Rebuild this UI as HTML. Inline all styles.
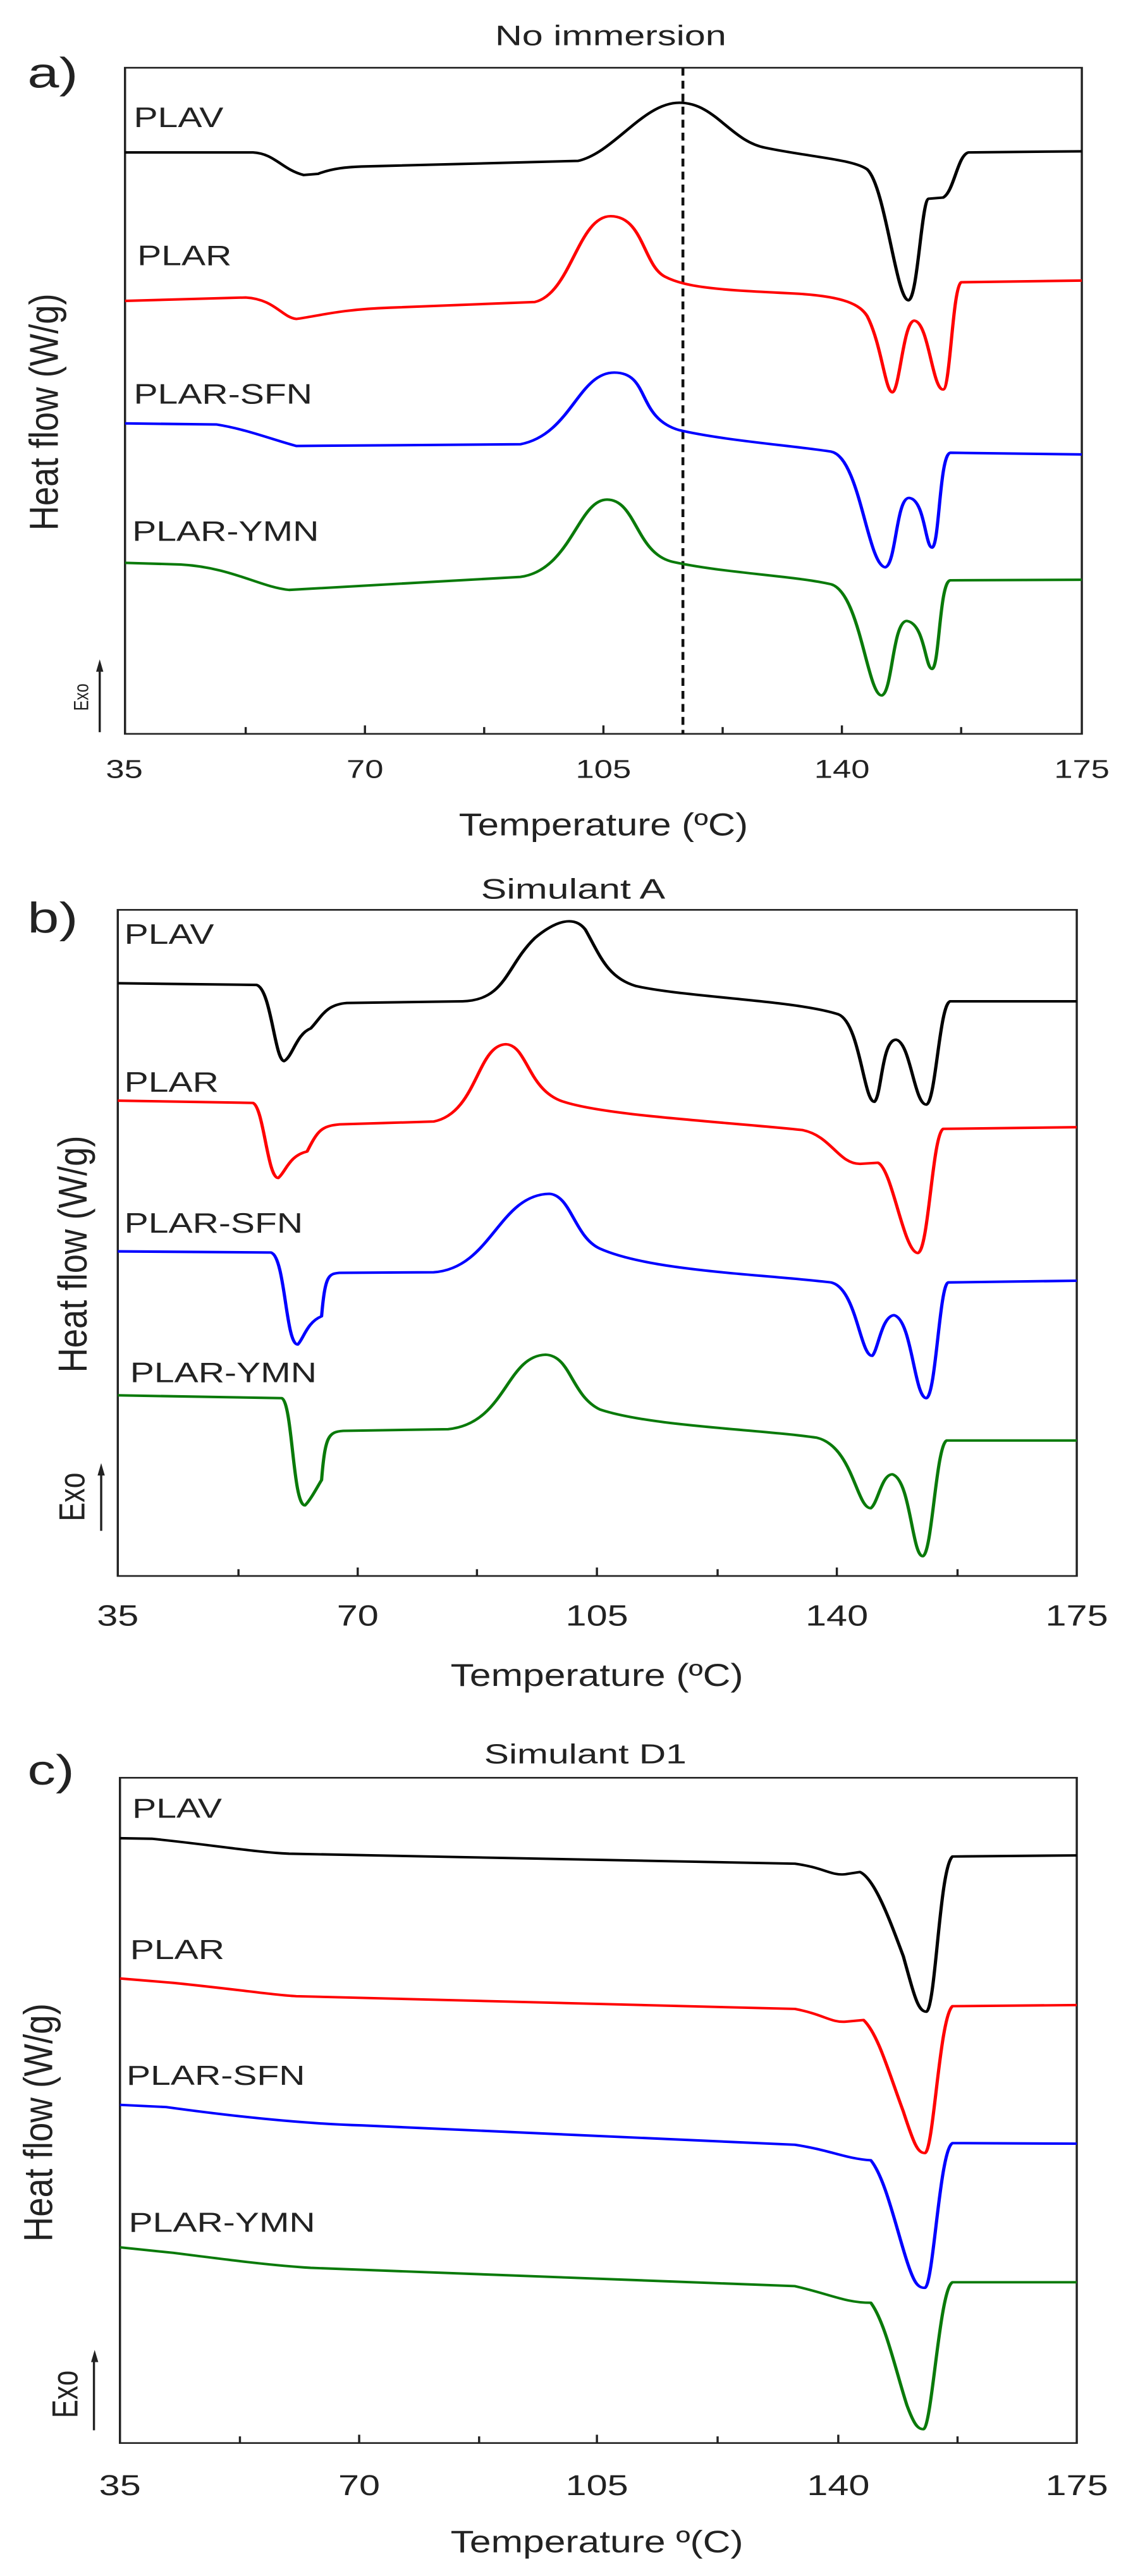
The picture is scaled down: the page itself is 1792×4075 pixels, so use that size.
<!DOCTYPE html>
<html><head><meta charset="utf-8"><style>
html,body{margin:0;padding:0;background:#fff;}
svg{display:block;}
text{font-family:"Liberation Sans",Arial,sans-serif;fill:#222;}
</style></head><body>
<svg width="1792" height="4075" viewBox="0 0 1792 4075" xmlns="http://www.w3.org/2000/svg">
<rect width="1792" height="4075" fill="#fff"/>

<!-- Panel a -->
<g transform="translate(0,0) scale(1.143,0.893)">
  <text x="845" y="80" font-size="50" text-anchor="middle" textLength="320" lengthAdjust="spacingAndGlyphs">No immersion</text>
  <text x="38" y="155" font-size="76" textLength="70" lengthAdjust="spacingAndGlyphs">a)</text>
  <rect x="173" y="120" width="1324" height="1180" fill="none" stroke="#222" stroke-width="3"/>
  <g stroke="#222" stroke-width="3">
    <line x1="340" y1="1300" x2="340" y2="1288"/><line x1="505" y1="1300" x2="505" y2="1285"/>
    <line x1="670" y1="1300" x2="670" y2="1288"/><line x1="835" y1="1300" x2="835" y2="1285"/>
    <line x1="1000" y1="1300" x2="1000" y2="1288"/><line x1="1165" y1="1300" x2="1165" y2="1285"/>
    <line x1="1330" y1="1300" x2="1330" y2="1288"/>
  </g>
  <g font-size="46" text-anchor="middle">
    <text x="172" y="1378">35</text><text x="505" y="1378">70</text><text x="835" y="1378">105</text>
    <text x="1165" y="1378">140</text><text x="1497" y="1378">175</text>
  </g>
  <text x="835" y="1480" font-size="56" text-anchor="middle" textLength="400" lengthAdjust="spacingAndGlyphs">Temperature (ºC)</text>
  <text transform="translate(80,730) rotate(-90)" font-size="56" text-anchor="middle" textLength="420" lengthAdjust="spacingAndGlyphs">Heat flow (W/g)</text>
  <text transform="translate(122,1235) rotate(-90)" font-size="28" text-anchor="middle">Exo</text>
  <line x1="138" y1="1297" x2="138" y2="1180" stroke="#222" stroke-width="3"/>
  <polygon points="138,1168 133,1190 143,1190" fill="#222"/>
  <line x1="945" y1="120" x2="945" y2="1300" stroke="#111" stroke-width="4" stroke-dasharray="14,9"/>
  <g font-size="50">
    <text x="185" y="225">PLAV</text><text x="190" y="470">PLAR</text>
    <text x="185" y="715">PLAR-SFN</text><text x="183" y="958">PLAR-YMN</text>
  </g>
  <g fill="none" stroke-width="4.5" stroke-linejoin="round">
    <path stroke="#000" d="M173,270 L350,270 C380,272 390,300 420,310 L440,308 C460,298 480,296 500,295 L800,285 C850,270 890,182 940,182 C990,182 1010,250 1060,262 C1120,278 1180,282 1200,300 C1225,330 1240,530 1257,532 C1270,530 1275,355 1285,352 L1305,350 C1320,340 1325,275 1340,270 L1497,268"/>
    <path stroke="#f00" d="M173,533 L340,527 C380,530 390,562 410,565 C440,560 470,548 540,545 L740,535 C790,520 800,383 845,383 C890,383 890,470 920,490 C950,510 1000,514 1100,520 C1170,525 1190,540 1200,560 C1220,610 1225,695 1235,695 C1245,690 1250,570 1265,568 C1285,570 1290,690 1305,690 C1315,690 1318,510 1330,500 L1497,497"/>
    <path stroke="#0000ff" d="M173,750 L300,752 C340,760 380,780 410,790 L720,787 C790,770 800,660 850,660 C900,660 880,740 940,762 C1000,780 1100,790 1150,800 C1190,810 1200,1000 1225,1005 C1240,1000 1240,882 1258,882 C1280,885 1280,970 1290,970 C1300,965 1300,805 1315,802 L1497,805"/>
    <path stroke="#0a7a0a" d="M173,997 L250,1000 C320,1005 360,1040 400,1045 L720,1022 C790,1010 800,885 840,885 C880,885 880,980 930,995 C1000,1015 1100,1020 1150,1035 C1190,1050 1200,1230 1220,1232 C1235,1228 1235,1100 1255,1100 C1280,1105 1280,1185 1290,1185 C1300,1180 1300,1030 1315,1028 L1497,1027"/>
  </g>
</g>

<!-- Panel b -->
<g transform="translate(0,1350) scale(1.143,0.893)">
  <text x="793" y="80" font-size="50" text-anchor="middle" textLength="255" lengthAdjust="spacingAndGlyphs">Simulant A</text>
  <text x="38" y="140" font-size="76" textLength="70" lengthAdjust="spacingAndGlyphs">b)</text>
  <rect x="163" y="100" width="1327" height="1180" fill="none" stroke="#222" stroke-width="3"/>
  <g stroke="#222" stroke-width="3">
    <line x1="330" y1="1280" x2="330" y2="1268"/><line x1="495" y1="1280" x2="495" y2="1265"/>
    <line x1="660" y1="1280" x2="660" y2="1268"/><line x1="826" y1="1280" x2="826" y2="1265"/>
    <line x1="993" y1="1280" x2="993" y2="1268"/><line x1="1158" y1="1280" x2="1158" y2="1265"/>
    <line x1="1325" y1="1280" x2="1325" y2="1268"/>
  </g>
  <g font-size="52" text-anchor="middle">
    <text x="163" y="1368">35</text><text x="495" y="1368">70</text><text x="826" y="1368">105</text>
    <text x="1158" y="1368">140</text><text x="1490" y="1368">175</text>
  </g>
  <text x="826" y="1475" font-size="56" text-anchor="middle" textLength="405" lengthAdjust="spacingAndGlyphs">Temperature (ºC)</text>
  <text transform="translate(120,710) rotate(-90)" font-size="56" text-anchor="middle" textLength="420" lengthAdjust="spacingAndGlyphs">Heat flow (W/g)</text>
  <text transform="translate(117,1140) rotate(-90)" font-size="50" text-anchor="middle">Exo</text>
  <line x1="140" y1="1200" x2="140" y2="1095" stroke="#222" stroke-width="3"/>
  <polygon points="140,1080 135,1102 145,1102" fill="#222"/>
  <g font-size="50">
    <text x="172" y="160">PLAV</text><text x="172" y="422">PLAR</text>
    <text x="172" y="672">PLAR-SFN</text><text x="180" y="937">PLAR-YMN</text>
  </g>
  <g fill="none" stroke-width="4.5" stroke-linejoin="round">
    <path stroke="#000" d="M163,230 L355,233 C375,240 380,365 393,368 C405,360 410,320 430,310 C445,290 450,268 480,265 L640,262 C700,260 700,200 740,150 C770,118 795,110 810,135 C830,180 840,220 880,235 C950,255 1100,260 1160,285 C1190,300 1195,440 1210,440 C1220,430 1220,330 1240,330 C1260,335 1265,445 1282,445 C1295,440 1300,265 1315,262 L1490,262"/>
    <path stroke="#f00" d="M163,438 L350,442 C365,450 370,575 385,575 C395,565 400,535 425,528 C440,490 445,483 470,480 L600,475 C660,460 660,340 700,338 C730,340 730,420 780,440 C840,465 1000,475 1110,490 C1150,500 1160,550 1190,550 L1215,548 C1235,560 1250,705 1270,708 C1285,705 1290,500 1305,488 L1490,485"/>
    <path stroke="#0000ff" d="M163,705 L375,707 C395,715 395,870 412,870 C420,860 425,830 445,820 C450,745 455,745 470,743 L600,742 C680,735 690,605 760,603 C790,605 795,680 830,700 C900,740 1050,745 1150,760 C1185,770 1190,890 1207,890 C1215,880 1220,820 1237,818 C1262,825 1265,965 1282,965 C1295,960 1300,765 1312,760 L1490,757"/>
    <path stroke="#0a7a0a" d="M163,960 L390,965 C405,975 405,1155 422,1155 C430,1145 440,1120 445,1110 C450,1030 455,1025 475,1023 L620,1020 C700,1010 700,890 755,888 C790,890 790,960 830,985 C900,1015 1050,1020 1130,1035 C1180,1050 1185,1160 1205,1160 C1215,1150 1220,1100 1235,1100 C1260,1110 1262,1245 1277,1245 C1290,1240 1295,1050 1310,1040 L1490,1040"/>
  </g>
</g>

<!-- Panel c -->
<g transform="translate(0,2700) scale(1.143,0.877)">
  <text x="810" y="102" font-size="50" text-anchor="middle" textLength="280" lengthAdjust="spacingAndGlyphs">Simulant D1</text>
  <text x="38" y="140" font-size="76" textLength="65" lengthAdjust="spacingAndGlyphs">c)</text>
  <rect x="166" y="128" width="1324" height="1200" fill="none" stroke="#222" stroke-width="3"/>
  <g stroke="#222" stroke-width="3">
    <line x1="332" y1="1328" x2="332" y2="1316"/><line x1="497" y1="1328" x2="497" y2="1313"/>
    <line x1="663" y1="1328" x2="663" y2="1316"/><line x1="826" y1="1328" x2="826" y2="1313"/>
    <line x1="993" y1="1328" x2="993" y2="1316"/><line x1="1160" y1="1328" x2="1160" y2="1313"/>
    <line x1="1325" y1="1328" x2="1325" y2="1316"/>
  </g>
  <g font-size="52" text-anchor="middle">
    <text x="166" y="1422">35</text><text x="497" y="1422">70</text><text x="826" y="1422">105</text>
    <text x="1160" y="1422">140</text><text x="1490" y="1422">175</text>
  </g>
  <text x="826" y="1525" font-size="56" text-anchor="middle" textLength="405" lengthAdjust="spacingAndGlyphs">Temperature º(C)</text>
  <text transform="translate(72,750) rotate(-90)" font-size="56" text-anchor="middle" textLength="430" lengthAdjust="spacingAndGlyphs">Heat flow (W/g)</text>
  <text transform="translate(107,1240) rotate(-90)" font-size="50" text-anchor="middle">Exo</text>
  <line x1="130" y1="1305" x2="130" y2="1175" stroke="#222" stroke-width="3"/>
  <polygon points="131,1160 126,1182 136,1182" fill="#222"/>
  <g font-size="50">
    <text x="183" y="200">PLAV</text><text x="180" y="455">PLAR</text>
    <text x="175" y="682">PLAR-SFN</text><text x="178" y="947">PLAR-YMN</text>
  </g>
  <g fill="none" stroke-width="4.5" stroke-linejoin="round">
    <path stroke="#000" d="M166,237 L210,238 C300,250 350,262 400,265 L1100,283 C1140,290 1150,305 1170,302 L1190,298 C1210,310 1230,380 1250,450 C1265,520 1270,550 1282,550 C1295,540 1300,290 1318,270 L1490,268"/>
    <path stroke="#f00" d="M166,490 L240,498 C330,510 380,520 410,522 L1100,545 C1140,555 1150,570 1170,568 L1195,565 C1215,590 1230,660 1250,730 C1265,790 1270,805 1280,805 C1292,800 1300,560 1318,540 L1490,538"/>
    <path stroke="#0000ff" d="M166,718 L230,722 C330,740 420,752 500,755 L1100,790 C1150,800 1170,815 1205,818 C1225,850 1240,940 1255,1000 C1265,1040 1270,1048 1280,1048 C1292,1040 1300,800 1318,787 L1490,788"/>
    <path stroke="#0a7a0a" d="M166,975 L240,985 C330,1000 380,1008 430,1012 L1100,1045 C1150,1060 1170,1075 1205,1075 C1225,1110 1240,1200 1255,1260 C1265,1295 1270,1303 1278,1303 C1290,1295 1300,1050 1318,1038 L1490,1038"/>
  </g>
</g>
</svg>
</body></html>
